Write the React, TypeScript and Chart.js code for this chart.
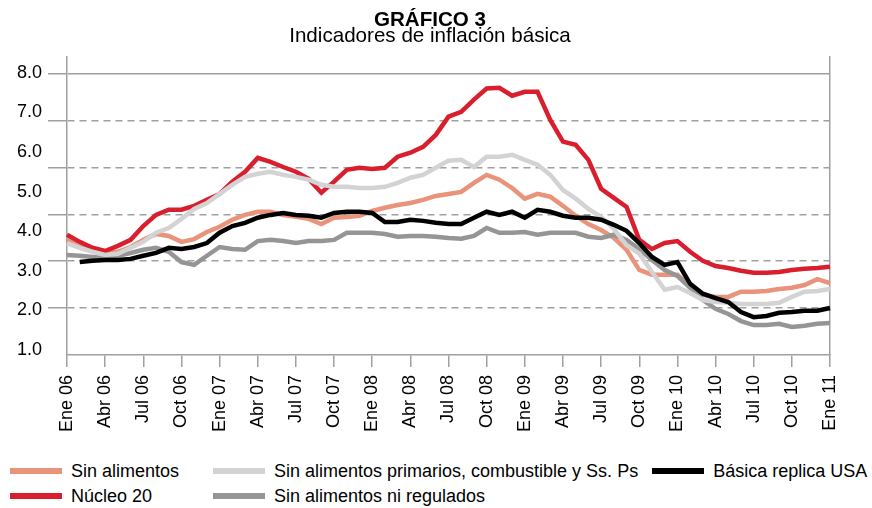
import React, { useEffect, useRef } from "react";
import { Chart, registerables } from "chart.js";
Chart.register(...registerables);

const categories = [
  "Ene 06","Feb 06","Mar 06","Abr 06","May 06","Jun 06","Jul 06","Ago 06","Sep 06","Oct 06","Nov 06","Dic 06",
  "Ene 07","Feb 07","Mar 07","Abr 07","May 07","Jun 07","Jul 07","Ago 07","Sep 07","Oct 07","Nov 07","Dic 07",
  "Ene 08","Feb 08","Mar 08","Abr 08","May 08","Jun 08","Jul 08","Ago 08","Sep 08","Oct 08","Nov 08","Dic 08",
  "Ene 09","Feb 09","Mar 09","Abr 09","May 09","Jun 09","Jul 09","Ago 09","Sep 09","Oct 09","Nov 09","Dic 09",
  "Ene 10","Feb 10","Mar 10","Abr 10","May 10","Jun 10","Jul 10","Ago 10","Sep 10","Oct 10","Nov 10","Dic 10",
  "Ene 11",
];

const sinAlimentos = [
  3.78,3.65,3.53,3.45,3.48,3.60,3.78,3.93,3.88,3.73,
  3.80,3.98,4.11,4.29,4.41,4.49,4.49,4.41,4.36,4.31,
  4.18,4.34,4.36,4.39,4.51,4.59,4.66,4.71,4.79,4.89,
  4.94,4.99,5.22,5.42,5.30,5.09,4.82,4.94,4.87,4.64,
  4.39,4.18,4.03,3.83,3.53,3.02,2.90,2.90,2.90,2.62,
  2.39,2.34,2.34,2.47,2.47,2.49,2.54,2.57,2.64,2.79,2.69,
];
const nucleo20 = [
  3.91,3.73,3.58,3.50,3.63,3.78,4.13,4.41,4.54,4.54,
  4.64,4.79,4.94,5.25,5.50,5.85,5.75,5.62,5.50,5.32,
  4.97,5.25,5.55,5.60,5.57,5.60,5.88,5.98,6.13,6.43,
  6.89,7.01,7.32,7.60,7.62,7.42,7.52,7.52,6.81,6.26,
  6.18,5.80,5.07,4.84,4.61,3.78,3.55,3.70,3.75,3.48,
  3.25,3.12,3.07,3.00,2.95,2.95,2.97,3.02,3.05,3.07,3.10,
];
const sinPrimarios = [
  3.70,3.58,3.48,3.40,3.43,3.58,3.73,3.96,4.08,4.31,
  4.56,4.71,4.94,5.17,5.37,5.45,5.50,5.42,5.37,5.30,
  5.17,5.12,5.12,5.09,5.09,5.12,5.22,5.35,5.42,5.60,
  5.78,5.80,5.62,5.88,5.88,5.93,5.80,5.68,5.42,5.04,
  4.82,4.56,4.36,4.06,3.65,3.43,2.97,2.52,2.59,2.44,
  2.26,2.21,2.19,2.16,2.16,2.16,2.19,2.34,2.47,2.49,2.54,
];
const sinRegulados = [
  3.40,3.38,3.35,3.35,3.38,3.45,3.53,3.58,3.48,3.22,
  3.15,3.38,3.60,3.55,3.53,3.75,3.78,3.75,3.70,3.75,
  3.75,3.78,3.96,3.96,3.96,3.93,3.86,3.88,3.88,3.86,
  3.83,3.81,3.88,4.08,3.96,3.96,3.98,3.91,3.96,3.96,
  3.96,3.86,3.83,3.91,3.78,3.55,3.27,3.02,2.87,2.57,
  2.26,2.04,1.91,1.73,1.63,1.63,1.66,1.58,1.61,1.66,1.68,
];
const basicaUSA = [
  null,3.22,3.25,3.27,3.27,3.30,3.38,3.45,3.58,3.55,
  3.60,3.70,3.96,4.13,4.21,4.34,4.41,4.46,4.41,4.39,
  4.34,4.46,4.49,4.49,4.46,4.23,4.23,4.29,4.26,4.21,
  4.18,4.18,4.34,4.49,4.41,4.49,4.34,4.54,4.49,4.39,
  4.34,4.34,4.29,4.16,4.01,3.70,3.35,3.15,3.22,2.67,
  2.42,2.31,2.21,1.96,1.83,1.86,1.94,1.96,1.99,1.99,2.06,
];

const yTickValues = [1, 2, 3, 4, 5, 6, 7, 8];
const gridTickValues = [0, 1, 2, 3, 4, 5, 6];

const seriesNames = [
  "Sin alimentos",
  "Núcleo 20",
  "Sin alimentos primarios, combustible y Ss. Ps",
  "Sin alimentos ni regulados",
  "Básica replica USA",
];
const seriesColors = ["#E9937A", "#D91F2E", "#D3D3D3", "#959595", "#000000"];
const seriesData = [sinAlimentos, nucleo20, sinPrimarios, sinRegulados, basicaUSA];
const seriesOrder = [4, 3, 1, 2, 0];

const FONT = "'Liberation Sans', Arial, Helvetica, sans-serif";
const GRID = "#a0a0a0";

function LegendItem({ i, width }: { i: number; width?: number }) {
  return (
    <div style={{ display: "flex", alignItems: "center", width: width, flex: "none" }}>
      <div style={{ width: 52, height: 6, background: seriesColors[i], marginRight: 9 }} />
      <span style={{ fontSize: 18, color: "#000", whiteSpace: "nowrap" }}>{seriesNames[i]}</span>
    </div>
  );
}

export default function App() {
  const ref = useRef<HTMLCanvasElement>(null);
  useEffect(() => {
    const chart = new Chart(ref.current!, {
      type: "line",
      data: {
        labels: categories,
        datasets: seriesData.map((d, i) => ({
          label: seriesNames[i],
          data: d,
          borderColor: seriesColors[i],
          backgroundColor: seriesColors[i],
          borderWidth: 4.5,
          pointRadius: 0,
          tension: 0,
          fill: false,
          order: seriesOrder[i],
          yAxisID: "y",
        })),
      },
      options: {
        responsive: false,
        animation: false,
        layout: { padding: { top: 0, left: 0, right: 12, bottom: 0 } },
        plugins: {
          legend: { display: false },
          tooltip: { enabled: false },
          title: {
            display: true,
            text: "GRÁFICO 3",
            color: "#000",
            font: { family: FONT, size: 20.6, weight: "bold", lineHeight: 0.8 },
            padding: { top: 12.5, bottom: 0 },
          },
          subtitle: {
            display: true,
            text: "Indicadores de inflación básica",
            color: "#000",
            font: { family: FONT, size: 20.6, lineHeight: 0.7 },
            padding: { top: 0, bottom: 13.3 },
          },
        },
        scales: {
          x: {
            type: "category",
            afterBuildTicks: (s: any) => {
              s.ticks = s.ticks.filter((t: any) => t.value % 3 === 0);
            },
            ticks: {
              autoSkip: false,
              minRotation: 90,
              maxRotation: 90,
              padding: 8,
              color: "#000",
              font: { family: FONT, size: 18 },
            },
            grid: {
              drawOnChartArea: false,
              drawTicks: true,
              tickLength: 12,
              color: GRID,
              lineWidth: 1.5,
            },
            border: { display: true, color: GRID, width: 1.5 },
            afterFit: (s: any) => {
              s.height = 95;
            },
          },
          y: {
            type: "linear",
            position: "left",
            weight: 2,
            min: 0.8736,
            max: 8.4043,
            afterBuildTicks: (s: any) => {
              s.ticks = yTickValues.map((v) => ({ value: v }));
            },
            ticks: {
              padding: 6,
              color: "#000",
              font: { family: FONT, size: 18 },
              callback: (v: any) => Number(v).toFixed(1),
            },
            grid: { display: false, drawTicks: false },
            border: { display: false },
            afterFit: (s: any) => {
              s.width = 48;
            },
          },
          yg: {
            type: "linear",
            position: "left",
            weight: 1,
            min: 0,
            max: 6.363,
            afterBuildTicks: (s: any) => {
              s.ticks = gridTickValues.map((v) => ({ value: v }));
            },
            ticks: { display: false },
            grid: {
              drawOnChartArea: true,
              drawTicks: true,
              tickLength: 19,
              lineWidth: 1.5,
              color: (c: any) => (c.tick && c.tick.value === 0 ? "rgba(0,0,0,0)" : GRID),
              tickColor: (c: any) => (c.tick && c.tick.value === 0 ? "rgba(0,0,0,0)" : GRID),
            },
            border: {
              display: true,
              color: GRID,
              width: 1.5,
              dash: (c: any) => (c.tick && c.tick.value > 0 && c.tick.value < 6 ? [7, 5] : []),
            },
            afterFit: (s: any) => {
              s.width = 19;
            },
          },
          yr: {
            type: "linear",
            position: "right",
            min: 0,
            max: 1,
            ticks: { display: false },
            grid: { drawOnChartArea: false, drawTicks: false },
            border: { display: true, color: GRID, width: 1.5 },
            afterFit: (s: any) => {
              s.width = 30;
            },
          },
        },
      } as any,
    });
    return () => chart.destroy();
  }, []);

  return (
    <div
      style={{
        position: "fixed",
        left: 0,
        top: 0,
        width: 872,
        height: 508,
        background: "#fff",
        fontFamily: FONT,
        overflow: "hidden",
      }}
    >
      <canvas ref={ref} width={872} height={450} style={{ position: "absolute", left: 0, top: 0, width: 872, height: 450 }} />
      <div style={{ position: "absolute", left: 10, top: 460, height: 22, display: "flex", alignItems: "center" }}>
        <LegendItem i={0} width={203} />
        <div style={{ marginRight: 14 }}>
          <LegendItem i={2} />
        </div>
        <LegendItem i={4} />
      </div>
      <div style={{ position: "absolute", left: 10, top: 485, height: 22, display: "flex", alignItems: "center" }}>
        <LegendItem i={1} width={203} />
        <LegendItem i={3} />
      </div>
    </div>
  );
}
